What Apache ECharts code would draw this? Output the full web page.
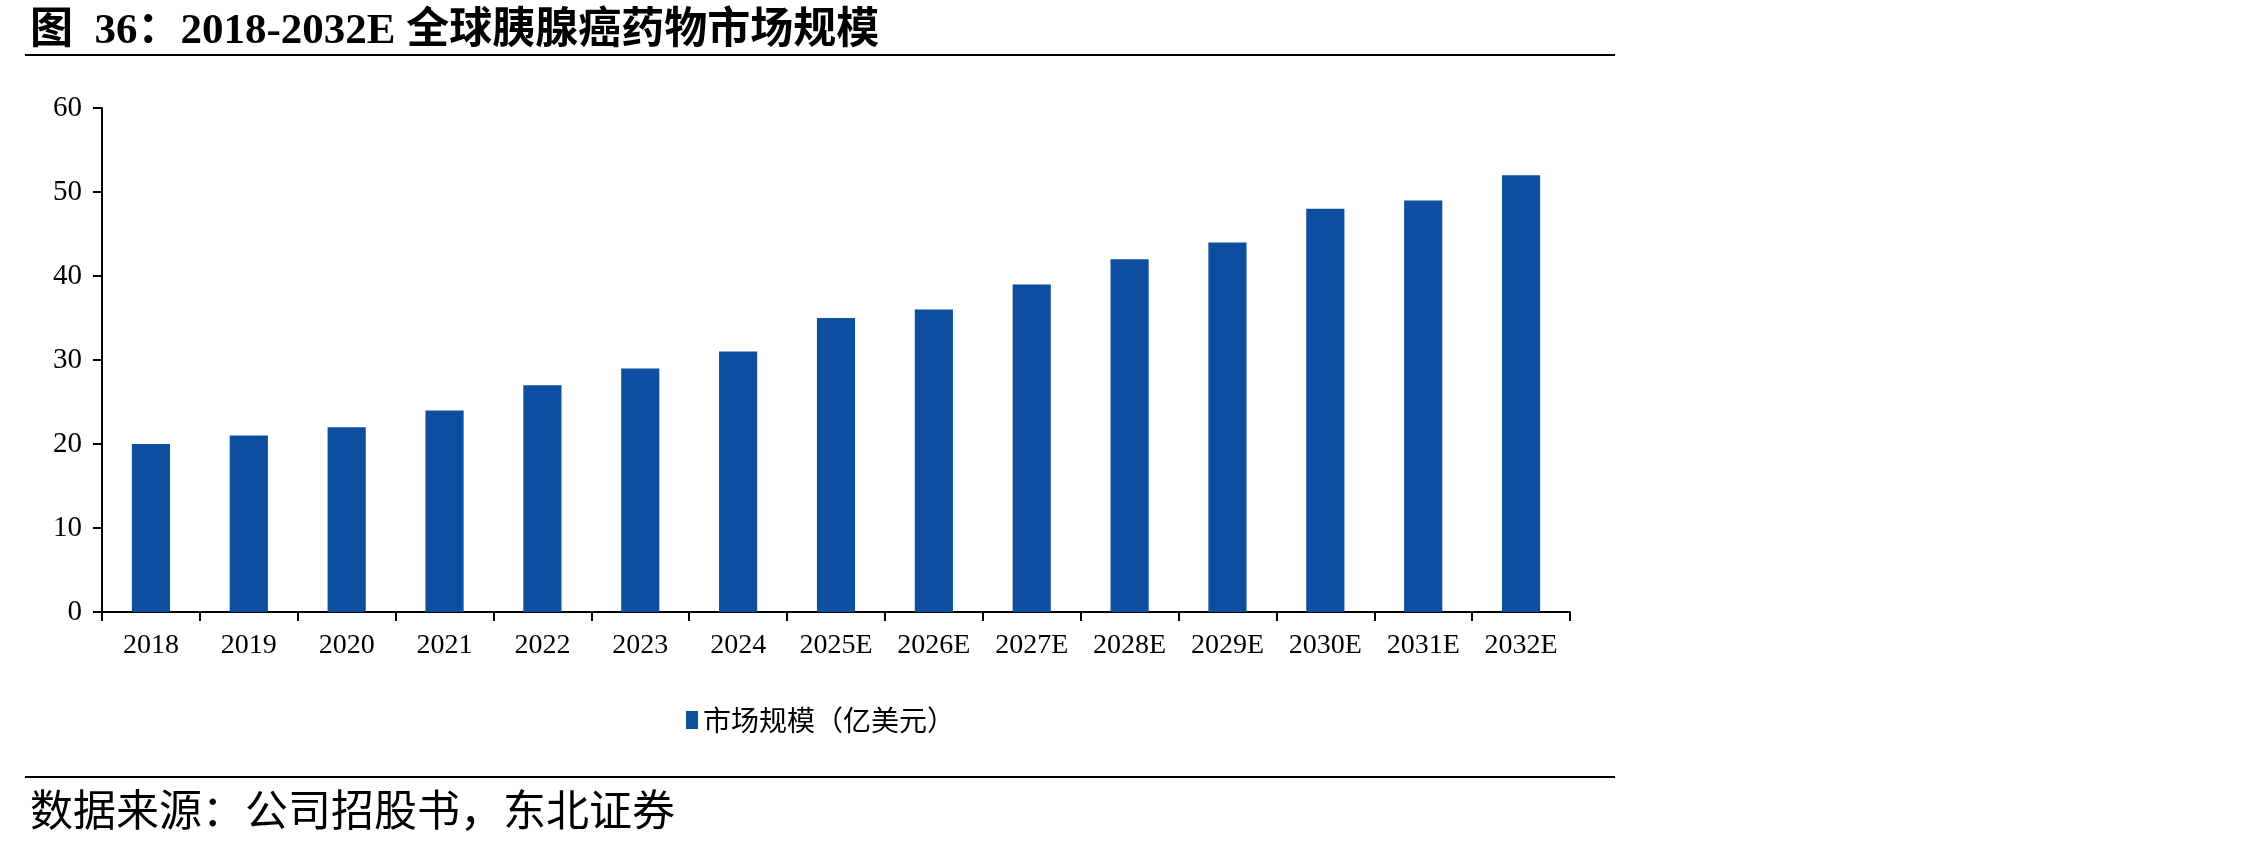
<!DOCTYPE html>
<html>
<head>
<meta charset="utf-8">
<script src="https://cdn.jsdelivr.net/npm/echarts@6/dist/echarts.min.js"></script>
<style>
html, body { margin: 0; padding: 0; background: #fff; }
#main { width: 2268px; height: 843px; }
</style>
</head>
<body>
<div id="main"></div>
<script>
// 年份（含预测）
var years = ['2018', '2019', '2020', '2021', '2022', '2023', '2024', '2025E', '2026E', '2027E', '2028E', '2029E', '2030E', '2031E', '2032E'];
// 市场规模（亿美元）
var marketSize = [20, 21, 22, 24, 27, 29, 31, 35, 36, 39, 42, 44, 48, 49, 52];
var seriesName = '市场规模（亿美元）';
var yTicks = { min: 0, max: 60, interval: 10 };

var myChart = echarts.init(document.getElementById('main'));
var option = {
    backgroundColor: '#fff',
    animation: false,
    title: [
        {
            text: '图  36：2018-2032E 全球胰腺癌药物市场规模',
            left: 25,
            top: 5,
            textStyle: {
                fontFamily: 'Liberation Serif, Noto Sans CJK SC',
                fontWeight: 'bold',
                fontSize: 43,
                color: '#000'
            }
        },
        {
            text: '数据来源：公司招股书，东北证券',
            left: 25,
            top: 783,
            textStyle: {
                fontFamily: 'Noto Sans CJK SC',
                fontWeight: 'normal',
                fontSize: 43,
                color: '#000'
            }
        }
    ],
    graphic: [
        { type: 'line', shape: { x1: 25, y1: 55, x2: 1615, y2: 55 }, style: { stroke: '#000', lineWidth: 2 } },
        { type: 'line', shape: { x1: 25, y1: 777, x2: 1615, y2: 777 }, style: { stroke: '#000', lineWidth: 2 } }
    ],
    legend: {
        data: [seriesName],
        left: 681,
        top: 701,
        icon: 'rect',
        itemWidth: 12,
        itemHeight: 18,
        itemGap: 6,
        textStyle: {
            fontFamily: 'Noto Sans CJK SC',
            fontSize: 28,
            color: '#000'
        }
    },
    grid: {
        left: 102,
        right: 698,
        top: 108,
        bottom: 231,
        containLabel: false
    },
    xAxis: {
        type: 'category',
        data: years,
        axisLine: { lineStyle: { color: '#000', width: 2 } },
        axisTick: { show: true, length: 9, lineStyle: { color: '#000', width: 2 } },
        axisLabel: {
            color: '#000',
            fontFamily: 'Liberation Serif',
            fontSize: 28,
            margin: 20
        }
    },
    yAxis: {
        type: 'value',
        min: yTicks.min,
        max: yTicks.max,
        interval: yTicks.interval,
        splitLine: { show: false },
        axisLine: { show: true, lineStyle: { color: '#000', width: 2 } },
        axisTick: { show: true, length: 9, lineStyle: { color: '#000', width: 2 } },
        axisLabel: {
            color: '#000',
            fontFamily: 'Liberation Serif',
            fontSize: 29,
            margin: 20
        }
    },
    series: [
        {
            name: seriesName,
            type: 'bar',
            data: marketSize,
            barWidth: '39%',
            itemStyle: { color: '#0d4ea1' }
        }
    ]
};
myChart.setOption(option);
</script>
</body>
</html>
